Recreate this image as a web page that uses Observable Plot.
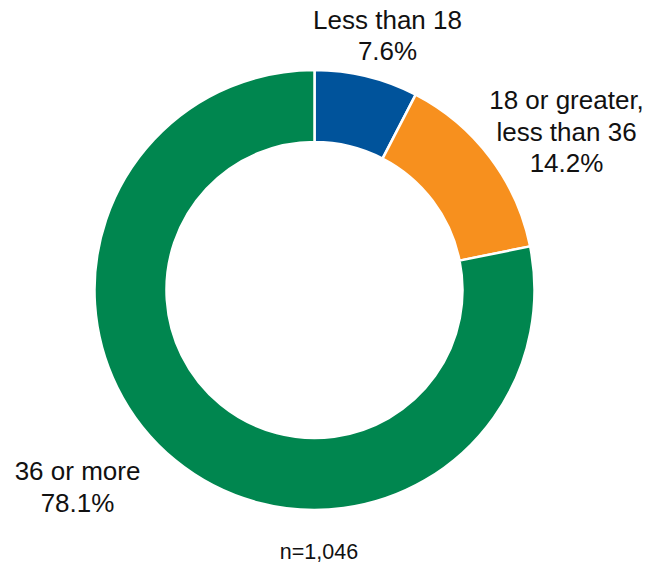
<!DOCTYPE html>
<html>
<head>
<meta charset="utf-8">
<script src="https://cdn.jsdelivr.net/npm/d3@7"></script>
<script src="https://cdn.jsdelivr.net/npm/@observablehq/plot@0.6"></script>
<style>
  html, body { margin: 0; padding: 0; background: #fff; }
  #chart svg { display: block; }
</style>
</head>
<body>
<div id="chart"></div>
<script>
// Data
const categories = ["Less than 18", "18 or greater,\nless than 36", "36 or more"];
const shares = [7.6, 14.2, 78.1];
const labels = ["7.6%", "14.2%", "78.1%"];
const colors = ["#00539b", "#f7901e", "#00864f"];
const note = "n=1,046";

// Layout (pixel space used by x/y scales)
const W = 660, H = 567;
const center = {x: 314.5, y: 290};
const rOuter = 220, rInner = 148;
const labelPos = [
  {x: 387, y: 5.5},
  {x: 566, y: 86},
  {x: 77, y: 457}
];

const labelData = categories.map((c, i) => ({
  text: c + "\n" + labels[i],
  x: labelPos[i].x,
  y: labelPos[i].y
}));

const pieData = d3.pie().sort(null).value(d => d.value)(
  categories.map((c, i) => ({category: c, value: shares[i]}))
);

const donut = (index, scales) => {
  const arc = d3.arc().innerRadius(rInner).outerRadius(rOuter);
  const g = d3.create("svg:g")
    .attr("transform", `translate(${scales.x(center.x)},${scales.y(center.y)})`);
  g.selectAll("path")
    .data(pieData)
    .join("path")
    .attr("d", arc)
    .attr("fill", d => scales.color ? scales.color(d.data.category) : colors[d.index])
    .attr("stroke", "#fff")
    .attr("stroke-width", 2.5)
    .attr("stroke-linejoin", "miter");
  return g.node();
};

const chart = Plot.plot({
  width: W,
  height: H,
  margin: 0,
  style: {fontFamily: "Helvetica, Arial, 'Liberation Sans', sans-serif", background: "#fff"},
  x: {domain: [0, W], range: [0, W], axis: null},
  y: {domain: [0, H], range: [0, H], axis: null},
  color: {domain: categories, range: colors},
  marks: [
    Plot.dot(categories, {x: () => center.x, y: () => center.y, r: 0, fill: d => d, stroke: null}),
    donut,
    Plot.text(labelData, {
      x: "x", y: "y", text: "text",
      lineAnchor: "top", textAnchor: "middle",
      fontSize: 26, lineHeight: 1.22, fill: "#111"
    }),
    Plot.text([note], {
      x: () => 318.5, y: () => 543,
      text: d => d, lineAnchor: "top", textAnchor: "middle",
      fontSize: 21.5, fill: "#111"
    })
  ]
});

document.getElementById("chart").appendChild(chart);
</script>
</body>
</html>
